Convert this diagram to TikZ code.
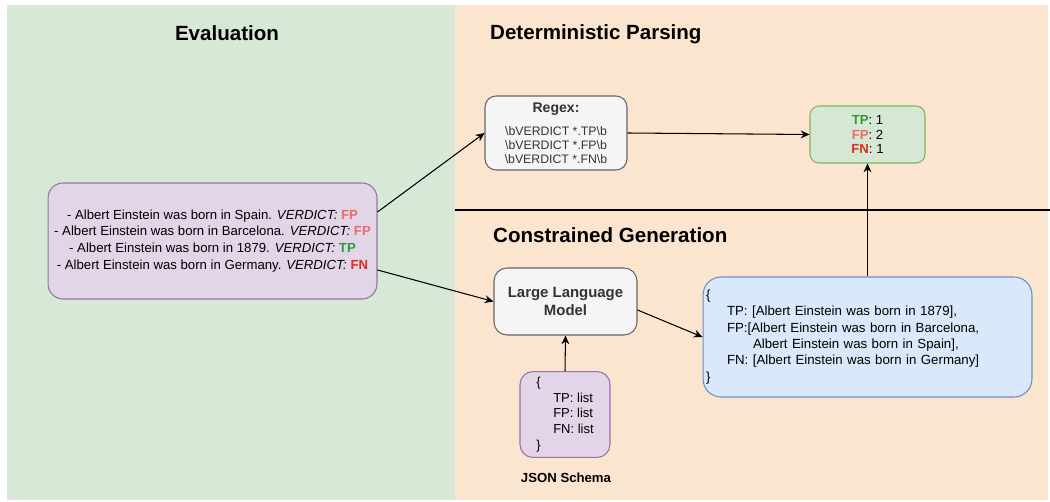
\documentclass[tikz,border=0pt]{standalone}
\usepackage{fontspec}
\setmainfont{Liberation Sans}
\usetikzlibrary{arrows.meta}
\definecolor{evalbg}{HTML}{D8E8D6}
\definecolor{parsebg}{HTML}{FBE5CF}
\definecolor{violetfill}{HTML}{E1D5E7}
\definecolor{violetline}{HTML}{9673A6}
\definecolor{grayfill}{HTML}{F5F5F5}
\definecolor{grayline}{HTML}{666666}
\definecolor{greenfill}{HTML}{D5E8D4}
\definecolor{greenline}{HTML}{82B366}
\definecolor{bluefill}{HTML}{DAE8FC}
\definecolor{blueline}{HTML}{6C8EBF}
\definecolor{tpgreen}{HTML}{339933}
\definecolor{fpred}{HTML}{EA6B66}
\definecolor{fnred}{HTML}{E5291C}
\newcommand{\tp}{\textbf{\color{tpgreen}TP}}
\newcommand{\fp}{\textbf{\color{fpred}FP}}
\newcommand{\fn}{\textbf{\color{fnred}FN}}
\begin{document}
\begin{tikzpicture}[x=0.02cm, y=-0.02cm,
    box/.style={draw, rounded corners=0.3cm, line width=0.6pt, inner sep=3pt},
    flow/.style={-{Stealth[length=5pt,width=4.5pt]}, line width=0.6pt},
    title/.style={font=\bfseries\fontsize{11.7}{14}\selectfont}]
    \useasboundingbox (0,0) rectangle (1050,502);
    % panels
    \fill[evalbg] (7,5) rectangle (455,500);
    \fill[parsebg] (455,5) rectangle (1048,500);
    \draw[line width=0.6pt] (455,210) -- (1050,210);
    \node[title] (evaltitle) at (227,33) {Evaluation};
    \node[title, anchor=west] (parsetitle) at (484,34) {Deterministic Parsing};
    \node[title, anchor=west] (gentitle) at (487,235) {Constrained Generation};
    % boxes
    \node[box, fill=violetfill, draw=violetline, minimum width=6.58cm, minimum height=2.32cm,
        align=center, font=\fontsize{7.5}{9.6}\selectfont] (claims) at (212.5,241)
        {- Albert Einstein was born in Spain. \textit{VERDICT:} \fp\\
         - Albert Einstein was born in Barcelona. \textit{VERDICT:} \fp\\
         - Albert Einstein was born in 1879. \textit{VERDICT:} \tp\\
         - Albert Einstein was born in Germany. \textit{VERDICT:} \fn};
    \node[box, rounded corners=0.22cm, fill=grayfill, draw=grayline, text=black!80,
        minimum width=2.84cm, minimum height=1.48cm, align=center,
        font=\fontsize{7}{8}\selectfont] (regex) at (556,133)
        {{\bfseries\fontsize{8}{9}\selectfont Regex:}\\[5pt]
         \textbackslash bVERDICT *.TP\textbackslash b\\
         \textbackslash bVERDICT *.FP\textbackslash b\\
         \textbackslash bVERDICT *.FN\textbackslash b};
    \node[box, rounded corners=0.18cm, fill=greenfill, draw=greenline, minimum width=2.3cm,
        minimum height=1.14cm, align=center, font=\fontsize{7.5}{8.5}\selectfont] (counts) at (867.5,134.5)
        {\tp: 1\\ \fp: 2\\ \fn: 1};
    \node[box, rounded corners=0.26cm, fill=grayfill, draw=grayline, text=black!80,
        minimum width=2.86cm, minimum height=1.34cm, align=center,
        font=\bfseries\fontsize{8.5}{9.8}\selectfont] (llm) at (565.5,301.5)
        {Large Language\\ Model};
    \node[box, rounded corners=0.26cm, fill=violetfill, draw=violetline, minimum width=1.8cm,
        minimum height=1.7cm, align=left, font=\fontsize{7.4}{9}\selectfont] (schema) at (565,414.5)
        {\{\\ \hspace{0.34cm}TP: list\\ \hspace{0.34cm}FP: list\\ \hspace{0.34cm}FN: list\\ \}};
    \node[font=\bfseries\fontsize{7.5}{9}\selectfont] (schemalabel) at (566,478) {JSON Schema};
    \node[box, rounded corners=0.36cm, fill=bluefill, draw=blueline, minimum width=6.58cm,
        minimum height=2.4cm, text width=6.46cm, inner sep=1.5pt, align=left,
        font=\fontsize{7.55}{9.3}\selectfont] (output) at (867.5,337)
        {\{\\
         \hspace{0.42cm}TP: [Albert Einstein was born in 1879],\\
         \hspace{0.42cm}FP:[Albert Einstein was born in Barcelona,\\
         \hspace{0.94cm}Albert Einstein was born in Spain],\\
         \hspace{0.42cm}FN: [Albert Einstein was born in Germany]\\
         \}};
    % connectors
    \draw[flow] ([yshift=0.58cm]claims.east) -- (regex.west);
    \draw[flow] ([yshift=-0.58cm]claims.east) -- (llm.west);
    \draw[flow] (regex.east) -- (counts.west);
    \draw[flow] ([yshift=-0.17cm]llm.east) -- (output.west);
    \draw[flow] (schema.north) -- (llm.south);
    \draw[flow] (output.north) -- (counts.south);
\end{tikzpicture}
\end{document}
